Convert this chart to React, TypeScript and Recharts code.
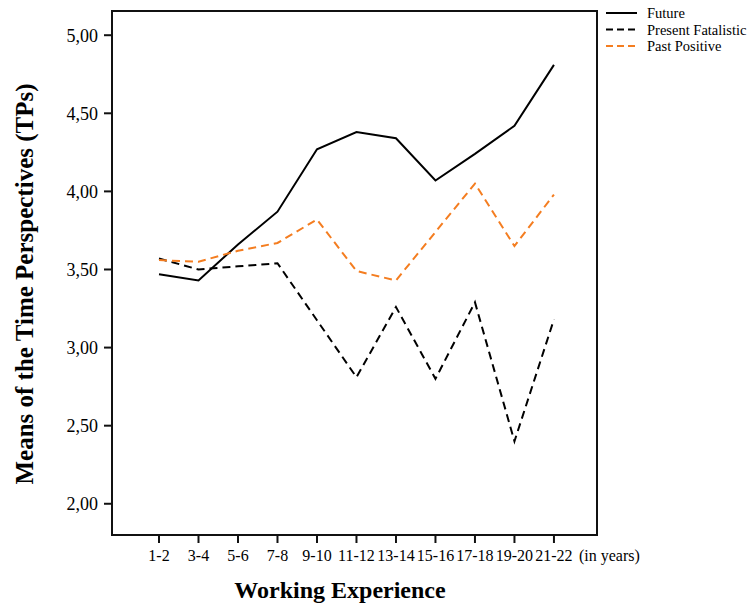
import React from "react";
import { LineChart, Line, XAxis, YAxis, Label, ReferenceArea } from "recharts";

const periods = ["1-2", "3-4", "5-6", "7-8", "9-10", "11-12", "13-14", "15-16", "17-18", "19-20", "21-22"];
const future = [3.47, 3.43, 3.66, 3.87, 4.27, 4.38, 4.34, 4.07, 4.24, 4.42, 4.81];
const presentFatalistic = [3.57, 3.5, 3.52, 3.54, 3.175, 2.81, 3.26, 2.8, 3.29, 2.4, 3.18];
const pastPositive = [3.56, 3.55, 3.62, 3.67, 3.82, 3.49, 3.43, 3.74, 4.05, 3.65, 3.98];
const yTicks = [2, 2.5, 3, 3.5, 4, 4.5, 5];

const seriesNames = ["Future", "Present Fatalistic", "Past Positive"];
const ORANGE = "#f47d20";

const X_DOMAIN: [number, number] = [-1.19, 11.09];
const Y_DOMAIN: [number, number] = [1.8, 5.155];

const data = periods.map((p, i) => ({
  idx: i,
  period: p,
  future: future[i],
  presentFatalistic: presentFatalistic[i],
  pastPositive: pastPositive[i],
}));
const xTicks = periods.map((_, i) => i);

const FONT = "'Liberation Serif', 'Times New Roman', serif";

const XTick = (props: any) => {
  const { x, y, payload } = props;
  const label = periods[payload.value] ?? "";
  const last = payload.value === periods.length - 1;
  return (
    <g>
      <text x={x} y={y} dy="0.71em" textAnchor="middle" fontFamily={FONT} fontSize={16} fill="#000">
        {label}
      </text>
      {last && (
        <text x={x + 25} y={y} dy="0.71em" textAnchor="start" fontFamily={FONT} fontSize={16} fill="#000">
          (in years)
        </text>
      )}
    </g>
  );
};

const legendItems = [
  { name: seriesNames[0], color: "#000", dash: undefined },
  { name: seriesNames[1], color: "#000", dash: "7 4" },
  { name: seriesNames[2], color: ORANGE, dash: "7 4" },
];

const LegendBox = () => (
  <svg width={150} height={56} style={{ position: "absolute", left: 605, top: 4, display: "block" }}>
    {legendItems.map((it, i) => (
      <g key={it.name}>
        <line x1={1} x2={32} y1={9 + i * 16.5} y2={9 + i * 16.5} stroke={it.color} strokeWidth={2} strokeDasharray={it.dash} />
        <text x={42} y={9 + i * 16.5} dy="0.35em" fontFamily={FONT} fontSize={14.5} fill="#000">
          {it.name}
        </text>
      </g>
    ))}
  </svg>
);

export default function App() {
  return (
    <div style={{ position: "absolute", left: 0, top: 0, width: 755, height: 607, background: "#fff" }}>
      <LineChart
        width={755}
        height={607}
        data={data}
        margin={{ top: 11, right: 158, bottom: 42, left: 62 }}
      >
        <XAxis
          type="number"
          dataKey="idx"
          domain={X_DOMAIN}
          allowDataOverflow
          ticks={xTicks}
          height={30}
          tickSize={8}
          tickMargin={7}
          tick={<XTick />}
          axisLine={{ stroke: "#111", strokeWidth: 2 }}
          tickLine={{ stroke: "#111", strokeWidth: 2 }}
          interval={0}
        >
          <Label
            content={() => (
              <text x={340} y={598} textAnchor="middle" fontFamily={FONT} fontWeight="bold" fontSize={24} fill="#000">
                Working Experience
              </text>
            )}
          />
        </XAxis>
        <YAxis
          type="number"
          domain={Y_DOMAIN}
          ticks={yTicks}
          allowDataOverflow
          width={50}
          tickSize={8}
          tickMargin={6}
          tickFormatter={(v: number) => v.toFixed(2).replace(".", ",")}
          tick={{ fontFamily: FONT, fontSize: 18, fill: "#000" }}
          axisLine={{ stroke: "#111", strokeWidth: 2 }}
          tickLine={{ stroke: "#111", strokeWidth: 2 }}
        >
          <Label
            content={() => (
              <text
                x={0}
                y={0}
                transform="translate(33, 284) rotate(-90)"
                textAnchor="middle"
                fontFamily={FONT}
                fontWeight="bold"
                fontSize={25}
                fill="#000"
              >
                Means of the Time Perspectives (TPs)
              </text>
            )}
          />
        </YAxis>
        <ReferenceArea
          x1={X_DOMAIN[0]}
          x2={X_DOMAIN[1]}
          y1={Y_DOMAIN[0]}
          y2={Y_DOMAIN[1]}
          fill="#ffffff"
          fillOpacity={0}
          stroke="#111"
          strokeWidth={2}
          strokeOpacity={1}
          ifOverflow="visible"
        />
        <Line
          type="linear"
          dataKey="future"
          name={seriesNames[0]}
          stroke="#000"
          strokeWidth={2}
          dot={false}
          isAnimationActive={false}
        />
        <Line
          type="linear"
          dataKey="presentFatalistic"
          name={seriesNames[1]}
          stroke="#000"
          strokeWidth={2}
          strokeDasharray="8 5"
          dot={false}
          isAnimationActive={false}
        />
        <Line
          type="linear"
          dataKey="pastPositive"
          name={seriesNames[2]}
          stroke={ORANGE}
          strokeWidth={2}
          strokeDasharray="8 5"
          dot={false}
          isAnimationActive={false}
        />
      </LineChart>
      <LegendBox />
    </div>
  );
}
